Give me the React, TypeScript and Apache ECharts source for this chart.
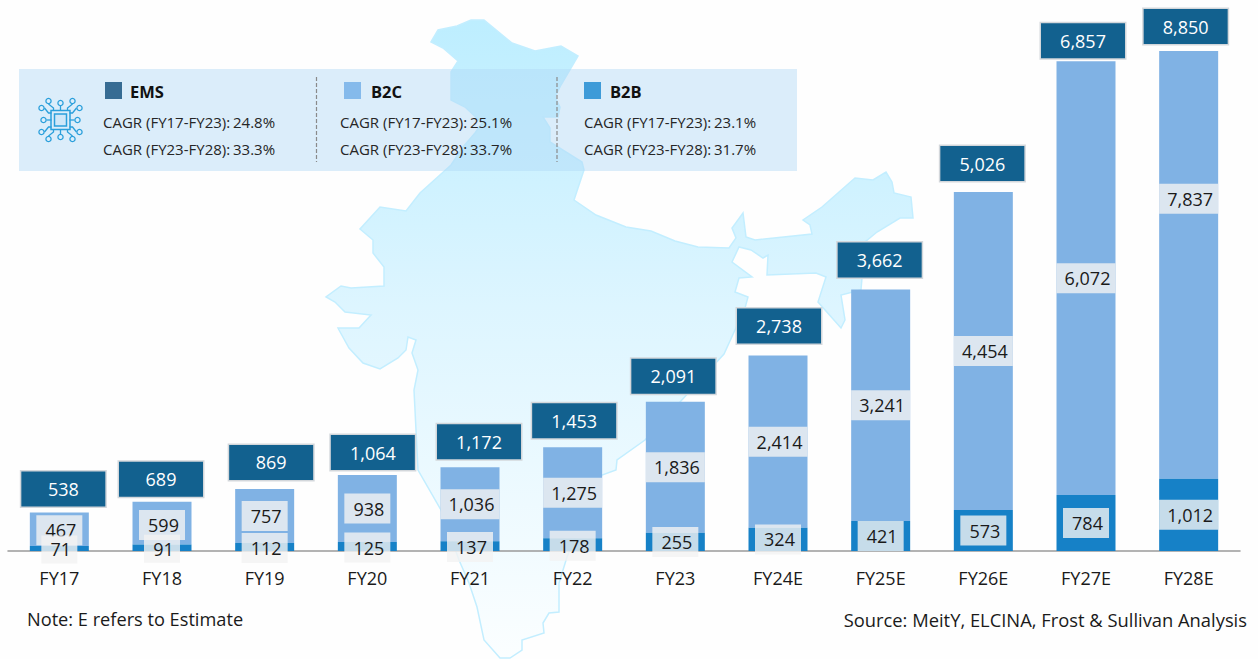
import React, { useEffect, useRef } from "react";
import * as echarts from "echarts";

const categories = ["FY17", "FY18", "FY19", "FY20", "FY21", "FY22", "FY23", "FY24E", "FY25E", "FY26E", "FY27E", "FY28E"];
const b2bValues = [71, 91, 112, 125, 137, 178, 255, 324, 421, 573, 784, 1012];
const b2cValues = [467, 599, 757, 938, 1036, 1275, 1836, 2414, 3241, 4454, 6072, 7837];
const totalValues = [538, 689, 869, 1064, 1172, 1453, 2091, 2738, 3662, 5026, 6857, 8850];
const legendNames = ["EMS", "B2C", "B2B"];
const cagrEarly = ["24.8%", "25.1%", "23.1%"];
const cagrLate = ["33.3%", "33.7%", "31.7%"];

// The reference breaks its own scale for the last bar: the axis stops at 7,000 and the bar is clipped there.
const Y_MAX = 7000;
const totalDx = [4, -1, 6.5, 5.5, 9, 1.5, -2, 1, -1, -1, -3, -3];
const totalGap = [6, 5, 9, 5, 8, 9, 8, 12, 12, 11, 3, 7];
const b2cDy = [1, 2, 0, 0, 0, 0, 0, 0, 0, 0, 0, -66];
const b2bDy = [1, 1, 1, 1, 1, 1, 0, 0, 0, 0, 0, 0];

const FONT = "'Open Sans'";
const fmt = (v: number) => v.toLocaleString("en-US");
const boxWidth = (v: number) => (v < 100 ? 36 : v < 1000 ? 46 : 59);

const mapOutline = [
  [431, 42], [438, 30], [457, 26], [471, 20], [484, 20], [512, 43], [535, 51], [561, 46], [578, 56], [561, 85], [555, 97],
  [560, 107], [558, 117], [543, 117], [550, 128], [550, 142], [582, 162], [584, 170], [574, 200], [596, 215], [626, 227],
  [651, 231], [675, 241], [698, 247], [729, 248], [736, 238], [732, 228], [743, 213], [746, 237], [755, 240], [812, 234],
  [810, 225], [803, 220], [822, 207], [855, 178], [873, 180], [886, 172], [892, 182], [894, 193], [911, 197], [913, 218],
  [900, 218], [877, 232], [865, 242], [861, 290], [841, 295], [845, 320], [841, 328], [818, 302], [826, 277], [816, 273],
  [767, 275], [768, 255], [763, 258], [751, 250], [739, 247], [732, 262], [752, 277], [739, 278], [735, 292], [748, 297],
  [745, 308], [724, 354], [680, 402], [645, 440], [617, 460], [616, 470], [602, 475], [567, 557], [559, 583], [559, 612],
  [549, 613], [543, 623], [544, 633], [522, 640], [522, 650], [510, 658], [500, 658], [484, 640], [477, 607], [469, 583],
  [459, 560], [441, 510], [418, 470], [414, 390], [418, 370], [412, 353], [416, 340], [408, 337], [406, 350], [398, 358],
  [380, 369], [363, 363], [349, 348], [339, 330], [338, 328], [359, 328], [371, 315], [345, 312], [335, 302], [326, 297],
  [341, 286], [351, 288], [384, 286], [384, 267], [373, 253], [373, 240], [360, 229], [380, 207], [406, 211], [420, 193],
  [451, 165], [463, 147], [475, 133], [482, 123], [465, 107], [451, 100], [451, 72], [458, 61], [443, 48],
];

function chipIcon() {
  const c = "#2A9FDB";
  const cx = 60.5;
  const cy = 120;
  const line = { stroke: c, lineWidth: 1.3, fill: "none" };
  const dot = { stroke: c, lineWidth: 1.3, fill: "#DCEEFB" };
  const children: any[] = [
    { type: "rect", shape: { x: cx - 9.5, y: cy - 9.5, width: 19, height: 19 }, style: { stroke: c, lineWidth: 1.5, fill: "none" } },
    { type: "rect", shape: { x: cx - 6, y: cy - 6, width: 12, height: 12 }, style: { stroke: c, lineWidth: 1.5, fill: "#CFE7F8" } },
  ];
  [-1, 0, 1].forEach((t) => {
    const off = t * 7;
    const reach = t === 0 ? 14 : 16;
    const bend = t * 5;
    [-1, 1].forEach((s) => {
      children.push({ type: "polyline", shape: { points: [[cx + off, cy + s * 9], [cx + off, cy + s * 12], [cx + off + bend, cy + s * reach]] }, style: line });
      children.push({ type: "circle", shape: { cx: cx + off + bend, cy: cy + s * (reach + 3), r: 2.6 }, style: dot });
      children.push({ type: "polyline", shape: { points: [[cx + s * 9, cy + off], [cx + s * 12, cy + off], [cx + s * reach, cy + off + bend]] }, style: line });
      children.push({ type: "circle", shape: { cx: cx + s * (reach + 3), cy: cy + off + bend, r: 2.6 }, style: dot });
    });
  });
  return { type: "group", z: 6, children };
}

function legendGraphics() {
  const swatch = ["#376C93", "#85BAEB", "#3E9BD8"];
  const swatchX = [105, 344, 584];
  const nameX = [130, 371, 610];
  const textX = [103, 340, 584];
  const valueX = [233, 470, 714];
  const items: any[] = [];
  const txt = (x: number, y: number, text: string, extra: any = {}) => ({
    type: "text",
    z: 6,
    x,
    y,
    style: { text, fill: "#262626", font: `15px ${FONT}`, verticalAlign: "middle", ...extra },
  });
  legendNames.forEach((n, i) => {
    items.push({ type: "rect", z: 6, shape: { x: swatchX[i], y: 82, width: 17, height: 17 }, style: { fill: swatch[i] } });
    items.push(txt(nameX[i], 91, n, { font: `bold 16.5px ${FONT}`, fill: "#111" }));
    items.push(txt(textX[i], 122, "CAGR (FY17-FY23):"));
    items.push(txt(valueX[i], 122, cagrEarly[i]));
    items.push(txt(textX[i], 149, "CAGR (FY23-FY28):"));
    items.push(txt(valueX[i], 149, cagrLate[i]));
  });
  [316.5, 557].forEach((x) => {
    items.push({ type: "line", z: 6, shape: { x1: x, y1: 77, x2: x, y2: 162 }, style: { stroke: "#8A8A8A", lineWidth: 1.2, lineDash: [4, 2] } });
  });
  return items;
}

export default function App() {
  const ref = useRef<HTMLDivElement>(null);
  useEffect(() => {
    const chart = echarts.init(ref.current!, undefined, { renderer: "svg" });
    const segLabel = (color: string) => ({
      show: true,
      position: "inside",
      color,
      fontFamily: FONT,
      fontSize: 18,
      height: 30,
      lineHeight: 30,
      padding: [0, 0, 0, 3],
      align: "center",
      verticalAlign: "middle",
      backgroundColor: "rgba(242,242,242,0.8)",
    });
    chart.setOption({
      animation: false,
      backgroundColor: "#FEFEFE",
      grid: { left: 8, right: 18, top: 51, bottom: 108 },
      xAxis: {
        type: "category",
        data: categories,
        z: 1,
        axisLine: { lineStyle: { color: "#9A9A9A", width: 1.5 } },
        axisTick: { show: false },
        axisLabel: { color: "#1a1a1a", fontFamily: FONT, fontSize: 18, margin: 18 },
      },
      yAxis: { type: "value", min: 0, max: Y_MAX, show: false, splitLine: { show: false } },
      graphic: [
        {
          type: "polygon",
          z: -10,
          shape: { points: mapOutline },
          style: {
            fill: new echarts.graphic.LinearGradient(0, 0, 0, 1, [
              { offset: 0, color: "#BDEEFF" },
              { offset: 0.45, color: "#DDF5FF" },
              { offset: 1, color: "#FBFEFF" },
            ]),
            stroke: "#C3EEFF",
            lineWidth: 1.5,
          },
        },
        { type: "rect", z: -5, shape: { x: 19, y: 69, width: 778, height: 102 }, style: { fill: "rgba(175,216,245,0.44)" } },
        chipIcon(),
        ...legendGraphics(),
        { type: "text", x: 27, y: 619, style: { text: "Note: E refers to Estimate", fill: "#1a1a1a", font: `18.2px ${FONT}`, verticalAlign: "middle" } },
        { type: "text", x: 1247, y: 619, style: { text: "Source: MeitY, ELCINA, Frost & Sullivan Analysis", fill: "#1a1a1a", font: `18.35px ${FONT}`, align: "right", verticalAlign: "middle" } },
      ],
      series: [
        {
          name: "B2B",
          type: "bar",
          stack: "total",
          barWidth: 59,
          z: 3,
          itemStyle: { color: "#1681C7" },
          data: b2bValues.map((v, i) => ({
            value: v,
            label: {
              ...segLabel("#1a1a1a"),
              width: boxWidth(v) - 3,
              height: v < 100 ? 28 : 30,
              lineHeight: v < 100 ? 28 : 30,
              offset: [0, b2bDy[i]],
              formatter: fmt(v),
            },
          })),
        },
        {
          name: "B2C",
          type: "bar",
          stack: "total",
          barWidth: 59,
          z: 2,
          itemStyle: { color: "#80B2E4" },
          data: b2cValues.map((v, i) => ({
            value: v,
            label: { ...segLabel("#1a1a1a"), width: boxWidth(v) - 3, offset: [0, b2cDy[i]], formatter: fmt(v) },
          })),
        },
        {
          name: "EMS",
          type: "scatter",
          symbolSize: 0,
          clip: false,
          z: 4,
          itemStyle: { opacity: 1 },
          data: totalValues.map((v, i) => ({
            value: Math.min(v, Y_MAX),
            label: {
              show: true,
              position: "top",
              distance: totalGap[i],
              offset: [totalDx[i], 0],
              formatter: fmt(v),
              color: "#fff",
              fontFamily: FONT,
              fontSize: 18,
              width: 84,
              height: 35,
              lineHeight: 35,
              opacity: 1,
              backgroundColor: "#12618F",
              borderColor: "#D3D7DB",
              borderWidth: 1.5,
            },
          })),
        },
      ],
    });
    return () => chart.dispose();
  }, []);
  return <div ref={ref} style={{ position: "absolute", left: 0, top: 0, width: 1258, height: 659 }} />;
}
